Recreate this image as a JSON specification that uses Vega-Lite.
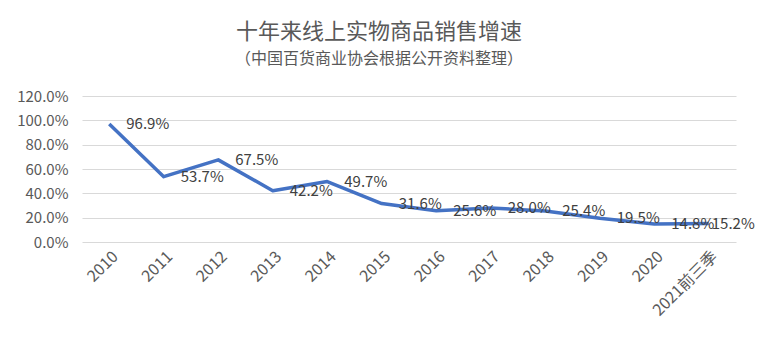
{
  "$schema": "https://vega.github.io/schema/vega-lite/v6.json",
  "autosize": "none",
  "width": 654,
  "height": 146,
  "padding": {"left": 82, "top": 96, "right": 22, "bottom": 111},
  "background": "white",
  "config": {
    "font": "Noto Sans CJK SC",
    "view": {"stroke": null}
  },
  "title": {
    "text": "十年来线上实物商品销售增速",
    "subtitle": "（中国百货商业协会根据公开资料整理）",
    "anchor": "middle",
    "dx": -30,
    "offset": 21,
    "fontSize": 22,
    "fontWeight": "normal",
    "color": "#595959",
    "subtitleFontSize": 16,
    "subtitleColor": "#595959",
    "subtitlePadding": 7
  },
  "data": {
    "values": [
      {"year": "2010", "rate": 0.969},
      {"year": "2011", "rate": 0.537},
      {"year": "2012", "rate": 0.675},
      {"year": "2013", "rate": 0.422},
      {"year": "2014", "rate": 0.497},
      {"year": "2015", "rate": 0.316},
      {"year": "2016", "rate": 0.256},
      {"year": "2017", "rate": 0.280},
      {"year": "2018", "rate": 0.254},
      {"year": "2019", "rate": 0.195},
      {"year": "2020", "rate": 0.148},
      {"year": "2021前三季", "rate": 0.152}
    ]
  },
  "encoding": {
    "x": {
      "field": "year",
      "type": "ordinal",
      "sort": null,
      "scale": {"type": "point", "padding": 0.5},
      "axis": {
        "title": null,
        "labelAngle": -45,
        "labelFontSize": 16,
        "labelColor": "#595959",
        "labelPadding": 6,
        "ticks": false,
        "domain": false,
        "grid": false
      }
    },
    "y": {
      "field": "rate",
      "type": "quantitative",
      "scale": {"domain": [0, 1.2], "nice": false},
      "axis": {
        "title": null,
        "format": ".1%",
        "values": [0, 0.2, 0.4, 0.6, 0.8, 1.0, 1.2],
        "labelFontSize": 15,
        "labelColor": "#595959",
        "labelPadding": 14,
        "ticks": false,
        "domain": false,
        "gridColor": "#d9d9d9",
        "gridWidth": 1
      }
    }
  },
  "layer": [
    {
      "mark": {"type": "line", "color": "#4472C4", "strokeWidth": 3.5, "strokeJoin": "round"}
    },
    {
      "transform": [{"filter": "datum.year !== '2021前三季'"}],
      "mark": {"type": "text", "align": "left", "baseline": "middle", "dx": 17, "fontSize": 15, "color": "#404040"},
      "encoding": {
        "text": {"field": "rate", "type": "quantitative", "format": ".1%"}
      }
    },
    {
      "transform": [{"filter": "datum.year === '2021前三季'"}],
      "mark": {"type": "text", "align": "left", "baseline": "middle", "dx": 3, "fontSize": 15, "color": "#404040"},
      "encoding": {
        "text": {"field": "rate", "type": "quantitative", "format": ".1%"}
      }
    }
  ]
}
